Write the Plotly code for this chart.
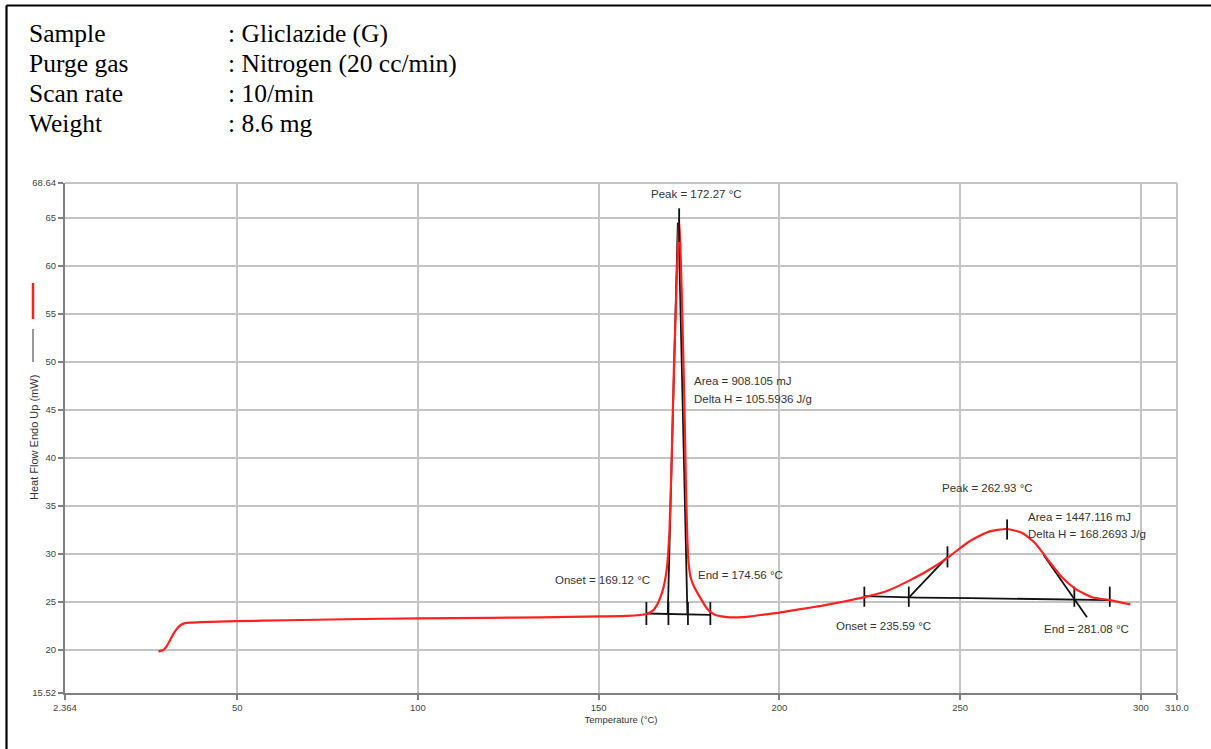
import plotly.graph_objects as go

# ---------------- data ----------------
temperature = [28.2, 29.6, 30.5, 31.4, 32.4, 33.3, 34.4, 35.6, 37.5, 39.7, 45, 49.9, 63.8, 80, 100, 120,
               133.9, 150.6, 158, 163.2, 165, 166, 167, 168, 168.6, 169, 169.6, 170.2, 170.8, 171.4,
               171.9, 172.27, 172.7, 173.2, 173.7, 174.1, 174.5, 174.9, 175.5, 176.5, 177.4, 178.5,
               180, 182, 185, 188.5, 192, 196, 200.1, 205, 211.6, 217.2, 223.5, 230.1, 235.8, 241.2,
               246.5, 252.3, 257.8, 263, 267.1, 270.8, 274.5, 278.1, 281.8, 286.5, 291.4, 297.1]
heat_flow = [19.85, 20.0, 20.4, 21.0, 21.7, 22.2, 22.6, 22.8, 22.85, 22.9, 22.95, 23.0, 23.1, 23.2, 23.3,
             23.35, 23.4, 23.5, 23.55, 23.75, 24.1, 24.6, 25.4, 26.6, 27.8, 29.0, 32.5, 40, 49, 56, 62,
             64.9, 61, 54, 46, 38, 32, 29.0, 27.5, 26.5, 25.9, 25.2, 24.3, 23.7, 23.45, 23.4, 23.5,
             23.7, 23.9, 24.2, 24.6, 25.0, 25.5, 26.2, 27.2, 28.3, 29.6, 31.25, 32.3, 32.6, 32.2, 31.1,
             29.3, 27.6, 26.4, 25.5, 25.2, 24.75]

# peak 1 analysis construction
p1_base_t = [163.2, 180.9]
p1_base_v = [23.8, 23.65]
p1_tick_t = [163.2, 169.3, 174.7, 180.9]
p1_left_tan_t = [169.12, 171.9]
p1_left_tan_v = [23.8, 64.5]
p1_right_tan_t = [174.56, 172.1]
p1_right_tan_v = [23.65, 64.5]
p1_peak_t = 172.27
p1_peak_v = [62.5, 66.0]

# peak 2 analysis construction
p2_base_t = [223.5, 238.5, 253, 291.4]
p2_base_v = [25.6, 25.45, 25.4, 25.2]
p2_tick_t = [223.5, 235.8, 281.6, 291.4]
p2_onset_tan_t = [235.8, 246.5]
p2_onset_tan_v = [25.45, 29.7]
p2_end_tan_t = [273.1, 285.1]
p2_end_tan_v = [29.9, 23.4]
p2_mid_tick_t = 246.5
p2_mid_tick_v = [28.6, 30.8]
p2_peak_t = 263.0
p2_peak_v = [31.5, 33.6]

x_ticks = [2.364, 50, 100, 150, 200, 250, 300, 310]
x_ticktext = ["2.364", "50", "100", "150", "200", "250", "300", "310.0"]
y_ticks = [15.52, 20, 25, 30, 35, 40, 45, 50, 55, 60, 65, 68.64]
y_ticktext = ["15.52", "20", "25", "30", "35", "40", "45", "50", "55", "60", "65", "68.64"]

header_labels = ["Sample", "Purge gas", "Scan rate", "Weight"]
header_values = [": Gliclazide (G)", ": Nitrogen (20 cc/min)", ": 10/min", ": 8.6 mg"]

# ---------------- figure ----------------
W, H = 1211, 749
L, R, T, B = 65, 34, 183, 56
pw, ph = W - L - R, H - T - B


def px(x):
    return (x - L) / pw


def py(y):
    return (H - B - y) / ph


fig = go.Figure()

BLK = dict(color="#111111", width=1.8)


def seg(xs, ys, line=BLK):
    fig.add_trace(go.Scatter(x=xs, y=ys, mode="lines", line=line, hoverinfo="skip", showlegend=False))


# black analysis lines (under the red curve)
seg(p1_base_t, p1_base_v)
for t in p1_tick_t:
    seg([t, t], [22.6, 25.0])
seg(p1_left_tan_t, p1_left_tan_v)
seg(p1_right_tan_t, p1_right_tan_v)

seg(p2_base_t, p2_base_v)
for t in p2_tick_t:
    seg([t, t], [24.5, 26.6])
seg(p2_onset_tan_t, p2_onset_tan_v)
seg(p2_end_tan_t, p2_end_tan_v)
seg([p2_mid_tick_t, p2_mid_tick_t], p2_mid_tick_v)

# the DSC curve
fig.add_trace(go.Scatter(x=temperature, y=heat_flow, mode="lines",
                         line=dict(color="#ff2020", width=2.2, shape="spline", smoothing=0.6),
                         showlegend=False))

seg([p1_peak_t, p1_peak_t], p1_peak_v)
seg([p2_peak_t, p2_peak_t], p2_peak_v)

afont = dict(family="Liberation Sans, Arial, sans-serif", size=11.5, color="#333333")
ann = [
    ("Peak = 172.27 °C", 177.1, 67.5, "center"),
    ("Area = 908.105 mJ", 175.7, 48.04, "left"),
    ("Delta H = 105.5936 J/g", 175.7, 46.16, "left"),
    ("Onset = 169.12 °C", 151.0, 27.34, "center"),
    ("End = 174.56 °C", 189.3, 27.86, "center"),
    ("Peak = 262.93 °C", 257.6, 36.89, "center"),
    ("Area = 1447.116 mJ", 268.1, 33.86, "left"),
    ("Delta H = 168.2693 J/g", 268.1, 32.06, "left"),
    ("Onset = 235.59 °C", 228.8, 22.5, "center"),
    ("End = 281.08 °C", 285.0, 22.16, "center"),
]
for text, x, y, anc in ann:
    fig.add_annotation(x=x, y=y, text=text, showarrow=False, xanchor=anc, yanchor="middle",
                       font=afont, xref="x", yref="y")

hfont = dict(family="Liberation Serif, Times New Roman, serif", size=25.5, color="#000000")
for i, (lab, val) in enumerate(zip(header_labels, header_values)):
    ycen = 34 + 30 * i
    fig.add_annotation(x=px(27), y=py(ycen), text=lab, showarrow=False, xanchor="left",
                       yanchor="middle", xref="paper", yref="paper", font=hfont)
    fig.add_annotation(x=px(226), y=py(ycen), text=val, showarrow=False, xanchor="left",
                       yanchor="middle", xref="paper", yref="paper", font=hfont)

# y axis title (rotated) and legend marks
fig.add_annotation(x=px(34), y=py(438), text="Heat Flow Endo Up (mW)", textangle=-90,
                   showarrow=False, xref="paper", yref="paper", xanchor="center", yanchor="middle",
                   font=dict(family="Liberation Sans, Arial, sans-serif", size=11, color="#333333"))
fig.add_shape(type="line", xref="paper", yref="paper", x0=px(33), x1=px(33), y0=py(283), y1=py(319),
              line=dict(color="#ff2020", width=2.5))
fig.add_shape(type="line", xref="paper", yref="paper", x0=px(33), x1=px(33), y0=py(329), y1=py(362),
              line=dict(color="#555555", width=1.2))

# frame (top and left edges)
fig.add_shape(type="line", xref="paper", yref="paper", x0=px(6.5), x1=px(1215), y0=py(5.5), y1=py(5.5),
              line=dict(color="#000000", width=2.2))
fig.add_shape(type="line", xref="paper", yref="paper", x0=px(6.5), x1=px(6.5), y0=py(5.5), y1=py(760),
              line=dict(color="#000000", width=2.2))

# far-side grid edges
fig.add_shape(type="line", xref="paper", yref="paper", x0=1, x1=1, y0=0, y1=1,
              line=dict(color="#c4c4c4", width=2))
fig.add_shape(type="line", xref="paper", yref="paper", x0=0, x1=1, y0=1, y1=1,
              line=dict(color="#c4c4c4", width=2))

tfont = dict(family="Liberation Sans, Arial, sans-serif", size=9.5, color="#444444")
fig.update_xaxes(range=[2.364, 310], tickvals=x_ticks, ticktext=x_ticktext, showgrid=True,
                 gridcolor="#c4c4c4", gridwidth=1.6, showline=True, linecolor="#808080", linewidth=2,
                 ticks="outside", ticklen=5, tickcolor="#808080", tickwidth=1.5, tickfont=tfont,
                 zeroline=False, title=dict(text="Temperature (°C)", standoff=4,
                 font=dict(family="Liberation Sans, Arial, sans-serif", size=9.5, color="#333333")))
fig.update_yaxes(range=[15.52, 68.64], tickvals=y_ticks, ticktext=y_ticktext, showgrid=True,
                 gridcolor="#c4c4c4", gridwidth=1.6, showline=True, linecolor="#808080", linewidth=2,
                 ticks="outside", ticklen=5, tickcolor="#808080", tickwidth=1.5, tickfont=tfont,
                 zeroline=False)

fig.update_layout(width=W, height=H, margin=dict(l=L, r=R, t=T, b=B), plot_bgcolor="white",
                  paper_bgcolor="white", showlegend=False)

fig.write_html("out.html")
